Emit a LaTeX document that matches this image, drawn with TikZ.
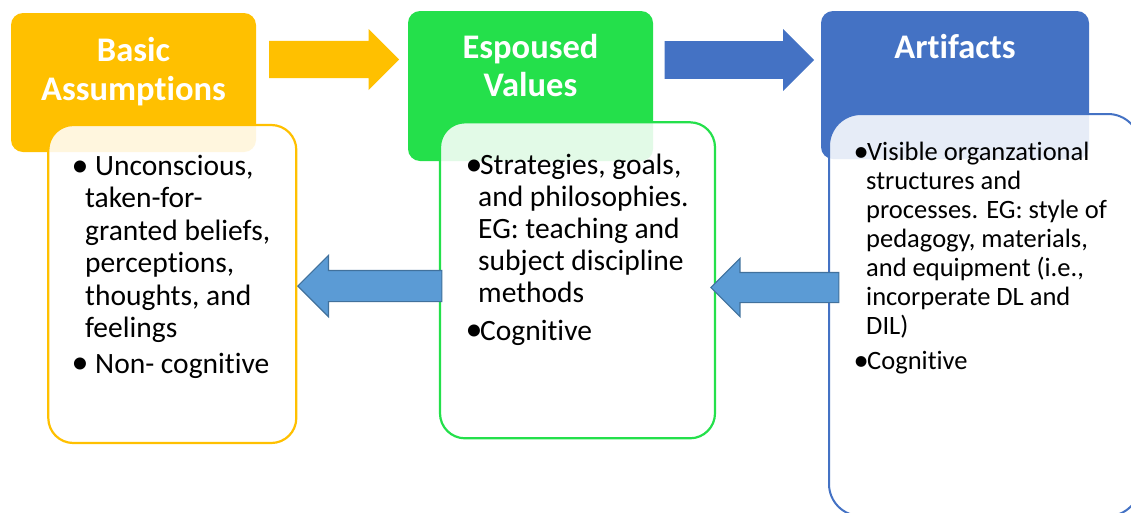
\documentclass[tikz,border=0pt]{standalone}
\usepackage{fontspec}
\setmainfont{Carlito}[Ligatures=NoCommon]
\usetikzlibrary{shapes.arrows}
\definecolor{corange}{HTML}{FFC000}
\definecolor{cgreen}{HTML}{24E04B}
\definecolor{cblue}{HTML}{4472C4}
\definecolor{cafill}{HTML}{5B9BD5}
\definecolor{caline}{HTML}{41719C}
\newcommand\mybul[2]{\hspace*{#1}\makebox[0pt][r]{\makebox[#2][l]{\raisebox{-0.02em}{\scalebox{1.15}{•}}}}}
\tikzset{
  hdr/.style={rectangle, rounded corners=12pt, draw=none, inner sep=0pt},
  hdrtext/.style={text=white, font=\fontsize{34.5}{38.5}\selectfont\bfseries, align=center, inner sep=0pt, anchor=north},
  tbox/.style={rectangle, rounded corners=25pt, fill=white, fill opacity=0.87, line width=2.2pt, inner sep=0pt},
  body/.style={anchor=north west, align=left, inner sep=0pt, text=black},
  fwd/.style={single arrow, single arrow head extend=#1, inner xsep=0pt, draw=none, shape border rotate=0, anchor=tip},
  back/.style={single arrow, single arrow head extend=#1, inner xsep=0pt, fill=cafill, draw=caline, line width=1.2pt, shape border rotate=180, anchor=tip}
}
\begin{document}
\begin{tikzpicture}[x=1pt,y=-1pt]
\useasboundingbox (0,0) rectangle (1131,512);
\clip (0,0) rectangle (1131,512);
% header boxes
\node[hdr, fill=corange, minimum width=245pt, minimum height=139pt] (ha) at (133.5,82.5) {};
\node[hdr, fill=cgreen, minimum width=245pt, minimum height=150pt] (hb) at (530.5,86) {};
\node[hdr, fill=cblue, minimum width=268pt, minimum height=148pt] (hc) at (955,85) {};
% header texts
\node[hdrtext] (ta) at (133.5,37.5) {Basic\\Assumptions};
\node[hdrtext] (tb) at (530.5,34) {Espoused\\Values};
\node[hdrtext] (tc) at (955,34.5) {Artifacts};
% forward arrows
\node[fwd=11.8pt, fill=corange, inner ysep=18.5pt, minimum height=130pt, minimum width=60.7pt] (fa) at (399.3,59.5) {};
\node[fwd=12pt, fill=cblue, inner ysep=18.65pt, minimum height=149.3pt, minimum width=61.4pt] (fb) at (814.3,60) {};
% text boxes
\node[tbox, draw=corange, minimum width=248pt, minimum height=318pt] (ba) at (172.3,284) {};
\node[tbox, draw=cgreen, minimum width=275pt, minimum height=316pt] (bb) at (577.5,280.3) {};
\node[tbox, draw=cblue, line width=2pt, rounded corners=32pt, minimum width=311pt, minimum height=402pt] (bc) at (984.5,315) {};
% backward arrows
\node[back=15pt, inner ysep=15pt, minimum height=144pt, minimum width=60pt] (la) at (297,286) {};
\node[back=14pt, inner ysep=14.5pt, minimum height=128pt, minimum width=57pt] (lb) at (710,287.5) {};
% body texts
\node[body, font=\fontsize{29.5}{32.4}\selectfont] (xa) at (85,155)
  {\mybul{10pt}{23.5pt}Unconscious,\\taken-for-\\granted beliefs,\\perceptions,\\thoughts, and\\feelings\\[3.5pt]\mybul{10pt}{23.5pt}Non- cognitive};
\node[body, font=\fontsize{29.5}{32}\selectfont] (xb) at (478,154)
  {\mybul{2pt}{14.5pt}Strategies, goals,\\and philosophies.\\EG: teaching and\\subject discipline\\methods\\[5.5pt]\mybul{2pt}{14.5pt}Cognitive};
\node[body, font=\fontsize{26.5}{29}\selectfont] (xc) at (866,142)
  {\mybul{1pt}{13.5pt}Visible organzational\\structures and\\processes. EG: style of\\pedagogy, materials,\\and equipment (i.e.,\\incorperate DL and\\DIL)\\[6pt]\mybul{1pt}{13.5pt}Cognitive};
\end{tikzpicture}
\end{document}
